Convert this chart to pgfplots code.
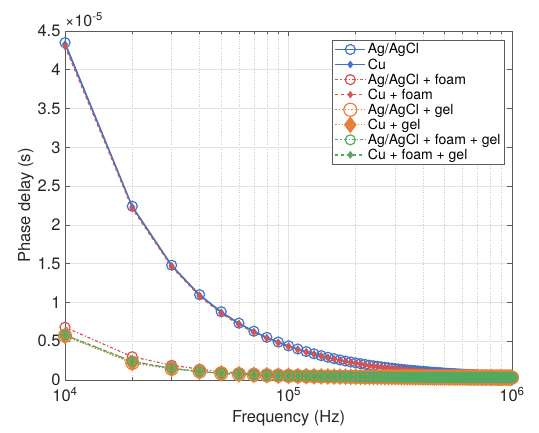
\documentclass[border=0pt]{standalone}
\usepackage{fontspec}
\setmainfont{TeX Gyre Heros}
\usepackage{pgfplots}
\usepackage{pgfplotstable}
\pgfplotsset{compat=1.18}
\definecolor{mblue}{RGB}{68,114,196}
\definecolor{mred}{RGB}{214,83,80}
\definecolor{morange}{RGB}{232,128,58}
\definecolor{mgreen}{RGB}{82,170,96}
\definecolor{axgray}{RGB}{38,38,38}

% phase delay in units of 1e-5 s
\pgfplotstableread{
f A C AF CF G CG FG CFG
10000 4.35 4.33 0.68 4.30 0.57 0.57 0.58 0.58
20000 2.24 2.23 0.30 2.21 0.22 0.22 0.24 0.24
30000 1.48 1.47 0.19 1.46 0.145 0.145 0.15 0.15
40000 1.10 1.09 0.14 1.08 0.11 0.11 0.11 0.11
50000 0.880 0.871 0.105 0.858 0.085 0.085 0.087 0.087
60000 0.733 0.726 0.090 0.715 0.073 0.073 0.075 0.075
70000 0.629 0.623 0.080 0.613 0.066 0.066 0.067 0.067
80000 0.550 0.545 0.073 0.536 0.061 0.061 0.062 0.062
90000 0.489 0.484 0.066 0.477 0.057 0.057 0.058 0.058
100000 0.440 0.436 0.060 0.429 0.053 0.053 0.054 0.054
110000 0.400 0.396 0.057 0.390 0.051 0.051 0.052 0.052
120000 0.367 0.363 0.055 0.358 0.049 0.049 0.050 0.050
130000 0.338 0.335 0.053 0.330 0.047 0.047 0.048 0.048
140000 0.314 0.311 0.051 0.306 0.046 0.046 0.047 0.047
150000 0.293 0.290 0.050 0.286 0.045 0.045 0.046 0.046
160000 0.275 0.272 0.049 0.268 0.044 0.044 0.045 0.045
170000 0.259 0.256 0.048 0.253 0.043 0.043 0.044 0.044
180000 0.244 0.242 0.047 0.238 0.042 0.042 0.043 0.043
190000 0.232 0.230 0.046 0.226 0.041 0.041 0.042 0.042
200000 0.220 0.218 0.045 0.215 0.041 0.041 0.042 0.042
210000 0.210 0.208 0.044 0.205 0.040 0.040 0.041 0.041
220000 0.200 0.198 0.044 0.195 0.039 0.039 0.040 0.040
230000 0.191 0.189 0.043 0.186 0.039 0.039 0.040 0.040
240000 0.183 0.181 0.043 0.178 0.038 0.038 0.039 0.039
250000 0.176 0.174 0.042 0.172 0.038 0.038 0.039 0.039
260000 0.169 0.167 0.042 0.165 0.038 0.038 0.039 0.039
270000 0.163 0.161 0.041 0.159 0.037 0.037 0.038 0.038
280000 0.157 0.155 0.041 0.153 0.037 0.037 0.038 0.038
290000 0.152 0.150 0.040 0.148 0.037 0.037 0.038 0.038
300000 0.147 0.146 0.040 0.143 0.036 0.036 0.037 0.037
310000 0.142 0.141 0.040 0.138 0.036 0.036 0.037 0.037
320000 0.138 0.137 0.039 0.135 0.036 0.036 0.037 0.037
330000 0.133 0.132 0.039 0.130 0.036 0.036 0.037 0.037
340000 0.129 0.128 0.039 0.126 0.035 0.035 0.036 0.036
350000 0.126 0.125 0.039 0.123 0.035 0.035 0.036 0.036
360000 0.122 0.121 0.038 0.119 0.035 0.035 0.036 0.036
370000 0.119 0.118 0.038 0.116 0.035 0.035 0.036 0.036
380000 0.116 0.115 0.038 0.113 0.035 0.035 0.036 0.036
390000 0.113 0.112 0.038 0.110 0.034 0.034 0.035 0.035
400000 0.110 0.109 0.038 0.107 0.034 0.034 0.035 0.035
410000 0.107 0.106 0.037 0.104 0.034 0.034 0.035 0.035
420000 0.105 0.104 0.037 0.102 0.034 0.034 0.035 0.035
430000 0.102 0.101 0.037 0.099 0.034 0.034 0.035 0.035
440000 0.100 0.099 0.037 0.098 0.034 0.034 0.035 0.035
450000 0.098 0.097 0.037 0.096 0.034 0.034 0.035 0.035
460000 0.096 0.095 0.037 0.094 0.034 0.034 0.035 0.035
470000 0.094 0.093 0.036 0.092 0.034 0.034 0.035 0.035
480000 0.092 0.091 0.036 0.090 0.033 0.033 0.034 0.034
490000 0.090 0.089 0.036 0.088 0.033 0.033 0.034 0.034
500000 0.088 0.087 0.036 0.086 0.033 0.033 0.034 0.034
510000 0.086 0.085 0.036 0.084 0.033 0.033 0.034 0.034
520000 0.085 0.084 0.036 0.083 0.033 0.033 0.034 0.034
530000 0.083 0.082 0.036 0.081 0.033 0.033 0.034 0.034
540000 0.081 0.080 0.036 0.079 0.033 0.033 0.034 0.034
550000 0.080 0.079 0.035 0.078 0.033 0.033 0.034 0.034
560000 0.079 0.078 0.035 0.077 0.033 0.033 0.034 0.034
570000 0.077 0.076 0.035 0.075 0.033 0.033 0.034 0.034
580000 0.076 0.075 0.035 0.074 0.033 0.033 0.034 0.034
590000 0.075 0.074 0.035 0.073 0.033 0.033 0.034 0.034
600000 0.073 0.072 0.035 0.071 0.033 0.033 0.034 0.034
610000 0.072 0.071 0.035 0.070 0.033 0.033 0.034 0.034
620000 0.071 0.070 0.035 0.069 0.033 0.033 0.034 0.034
630000 0.070 0.069 0.035 0.068 0.032 0.032 0.033 0.033
640000 0.069 0.068 0.035 0.067 0.032 0.032 0.033 0.033
650000 0.068 0.067 0.035 0.066 0.032 0.032 0.033 0.033
660000 0.067 0.066 0.035 0.065 0.032 0.032 0.033 0.033
670000 0.066 0.065 0.034 0.064 0.032 0.032 0.033 0.033
680000 0.065 0.064 0.034 0.063 0.032 0.032 0.033 0.033
690000 0.064 0.063 0.034 0.062 0.032 0.032 0.033 0.033
700000 0.063 0.062 0.034 0.061 0.032 0.032 0.033 0.033
710000 0.062 0.061 0.034 0.060 0.032 0.032 0.033 0.033
720000 0.061 0.060 0.034 0.059 0.032 0.032 0.033 0.033
730000 0.060 0.059 0.034 0.059 0.032 0.032 0.033 0.033
740000 0.059 0.058 0.034 0.058 0.032 0.032 0.033 0.033
750000 0.059 0.058 0.034 0.057 0.032 0.032 0.033 0.033
760000 0.058 0.057 0.034 0.056 0.032 0.032 0.033 0.033
770000 0.057 0.056 0.034 0.056 0.032 0.032 0.033 0.033
780000 0.056 0.055 0.034 0.055 0.032 0.032 0.033 0.033
790000 0.056 0.055 0.034 0.054 0.032 0.032 0.033 0.033
800000 0.055 0.054 0.034 0.054 0.032 0.032 0.033 0.033
810000 0.054 0.053 0.033 0.053 0.032 0.032 0.033 0.033
820000 0.054 0.053 0.033 0.052 0.032 0.032 0.033 0.033
830000 0.053 0.052 0.033 0.052 0.032 0.032 0.033 0.033
840000 0.052 0.051 0.033 0.051 0.031 0.031 0.032 0.032
850000 0.052 0.051 0.033 0.050 0.031 0.031 0.032 0.032
860000 0.051 0.050 0.033 0.050 0.031 0.031 0.032 0.032
870000 0.051 0.050 0.033 0.049 0.031 0.031 0.032 0.032
880000 0.050 0.049 0.033 0.049 0.031 0.031 0.032 0.032
890000 0.049 0.048 0.033 0.048 0.031 0.031 0.032 0.032
900000 0.049 0.048 0.033 0.048 0.031 0.031 0.032 0.032
910000 0.048 0.047 0.033 0.047 0.031 0.031 0.032 0.032
920000 0.048 0.047 0.033 0.047 0.031 0.031 0.032 0.032
930000 0.047 0.046 0.033 0.046 0.031 0.031 0.032 0.032
940000 0.047 0.046 0.033 0.046 0.031 0.031 0.032 0.032
950000 0.046 0.045 0.033 0.045 0.031 0.031 0.032 0.032
960000 0.046 0.045 0.033 0.045 0.031 0.031 0.032 0.032
970000 0.045 0.044 0.033 0.044 0.031 0.031 0.032 0.032
980000 0.045 0.044 0.033 0.044 0.031 0.031 0.032 0.032
990000 0.044 0.043 0.033 0.043 0.031 0.031 0.032 0.032
1000000 0.044 0.043 0.033 0.043 0.031 0.031 0.032 0.032
}\data

\begin{document}
\begin{tikzpicture}
\begin{axis}[
  name=A,
  scale only axis, width=447pt, height=349pt,
  xmode=log, xmin=1e4, xmax=1e6, ymin=0, ymax=4.5,
  ytick={0,0.5,1,1.5,2,2.5,3,3.5,4,4.5},
  yticklabels={0,0.5,1,1.5,2,2.5,3,3.5,4,4.5},
  xtick={1e4,1e5,1e6},
  xticklabels={10\textsuperscript{4},10\textsuperscript{5},10\textsuperscript{6}},
  /pgf/number format/assume math mode=true,
  tick label style={font=\fontsize{16.5}{18}\selectfont, text=axgray},
  xticklabel style={yshift=-4pt},
  yticklabel style={xshift=-1pt},
  label style={font=\fontsize{16.5}{18}\selectfont, text=axgray},
  xlabel={Frequency (Hz)}, ylabel={Phase delay (s)},
  xlabel style={yshift=-1pt},
  ylabel style={yshift=-3pt},
  grid=both,
  major grid style={gray!22, line width=0.6pt},
  minor grid style={gray!40, dotted, line width=0.6pt},
  axis line style={axgray!75, line width=0.6pt},
  tick style={axgray!75, line width=0.6pt},
  tick align=inside, major tick length=5pt, minor tick length=3pt,
  legend cell align=left,
  legend style={at={(rel axis cs:0.984,0.975)}, anchor=north east,
    font=\fontsize{14}{15}\selectfont, draw=axgray!75, line width=0.6pt,
    inner xsep=2pt, inner ysep=1.5pt, row sep=-0.9pt},
  legend image code/.code={\draw[mark repeat=2,mark phase=2,#1]
    plot coordinates {(0pt,0pt)(15pt,0pt)(30pt,0pt)};},
  clip=false,
]
\addplot[mblue, line width=1.2pt, mark=o, mark size=5pt] table[x=f,y=A] {\data};
\addlegendentry{Ag/AgCl}
\addplot[mblue, line width=1.2pt, mark=diamond*, mark size=3pt] table[x=f,y=C] {\data};
\addlegendentry{Cu}
\addplot[mred, line width=1.2pt, dashdotted, mark=o, mark size=5pt, mark options={solid}] table[x=f,y=AF] {\data};
\addlegendentry{Ag/AgCl + foam}
\addplot[mred, line width=1.2pt, dashed, mark=diamond*, mark size=2.8pt, mark options={solid}] table[x=f,y=CF] {\data};
\addlegendentry{Cu + foam}
\addplot[morange, line width=1.2pt, dotted, mark=o, mark size=6.5pt, mark options={solid}] table[x=f,y=G] {\data};
\addlegendentry{Ag/AgCl + gel}
\addplot[morange, line width=1.2pt, dotted, mark=diamond*, mark size=7.5pt, mark options={solid}] table[x=f,y=CG] {\data};
\addlegendentry{Cu + gel}
\addplot[mgreen, line width=1.2pt, dashdotted, mark=o, mark size=5pt, mark options={solid}] table[x=f,y=FG] {\data};
\addlegendentry{Ag/AgCl + foam + gel}
\addplot[mgreen, line width=1.2pt, dashed, mark=diamond*, mark size=3pt, mark options={solid}] table[x=f,y=CFG] {\data};
\addlegendentry{Cu + foam + gel}
\node[anchor=south west, inner sep=0pt, font=\fontsize{16}{18}\selectfont, text=axgray]
  at (rel axis cs:0,1.012) {×10\textsuperscript{-5}};
\end{axis}
\pgfresetboundingbox
\path[use as bounding box] ([shift={(-65pt,-53pt)}]A.south west) rectangle ([shift={(27pt,31pt)}]A.north east);
\end{tikzpicture}
\end{document}
